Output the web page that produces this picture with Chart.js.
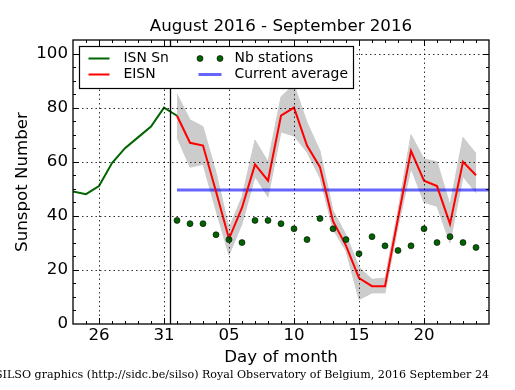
<!DOCTYPE html>
<html><head><meta charset="utf-8">
<script src="https://cdn.jsdelivr.net/npm/chart.js@4.4.1/dist/chart.umd.min.js"></script>
<style>html,body{margin:0;padding:0;background:#fff;}canvas{display:block}</style>
</head><body>
<canvas id="c" width="515" height="390"></canvas>
<script>
const chartTitle = 'August 2016 - September 2016';
const xAxisTitle = 'Day of month';
const yAxisTitle = 'Sunspot Number';
const footerText = 'SILSO graphics (http://sidc.be/silso) Royal Observatory of Belgium, 2016 September 24';
const seriesNames = ['ISN Sn', 'EISN', 'Nb stations', 'Current average'];

// day number counted from 31 August (= 0); negative = August, positive = September
const isnDays   = [-7, -6, -5, -4, -3, -2, -1, 0, 1];
const isnValues = [49, 48, 51, 59.5, 65, 69, 73, 80, 77];

const eisnDays   = [1, 2, 3, 4, 5, 6, 7, 8, 9, 10, 11, 12, 13, 14, 15, 16, 17, 18, 19, 20, 21, 22, 23, 24];
const eisnValues = [77, 67, 66, 49, 31.5, 43, 59, 53, 77, 80, 66, 58, 38, 29, 17, 14, 14, 39, 64, 53, 51, 37, 60, 55];
const bandUpper  = [85, 75.5, 73, 56, 35.5, 47, 68, 60, 84, 88.5, 74.5, 64, 42, 33, 21, 16.5, 17, 42, 70, 61, 60, 44, 69, 63];
const bandLower  = [69, 58, 59, 42, 25.5, 37, 54.5, 47, 71, 69.5, 63.5, 54, 35, 27, 9, 11.5, 11.5, 36, 57.5, 45, 43.5, 30, 54.5, 48.5];
const nbStations = [38.3, 37.1, 37.1, 33, 31.2, 30.1, 38.3, 38.3, 37.1, 35.2, 31.2, 39, 35.2, 31.2, 26, 32.3, 28.9, 27.2, 28.9, 35.2, 30.1, 32.3, 30.1, 28.3];

const avgDays   = [1, 25];
const avgValues = [49.5, 49.5];

const xTickValues = [-5, 0, 5, 10, 15, 20];
const xTickLabels = ['26', '31', '05', '10', '15', '20'];
const yTickValues = [0, 20, 40, 60, 80, 100];
const xMin = -7, xMax = 25, yMin = 0, yMax = 105;
const xMinorStep = 1, yMinorStep = 5;
const monthBoundary = 0.5;

const pts = (xs, ys) => xs.map((d, i) => ({x: d, y: ys[i]}));

const FONT = 'DejaVu Sans';
Chart.defaults.font.family = FONT;
Chart.defaults.color = '#000';

const decor = {
  id: 'decor',
  afterDatasetsDraw(chart) {
    const {ctx, chartArea: a, scales: {x, y}} = chart;
    ctx.save();
    ctx.strokeStyle = '#000';
    ctx.lineWidth = 0.8;
    ctx.setLineDash([1.5, 3]);
    xTickValues.forEach(v => {
      const px = Math.round(x.getPixelForValue(v)) + 0.5;
      ctx.beginPath(); ctx.moveTo(px, a.top); ctx.lineTo(px, a.bottom); ctx.stroke();
    });
    yTickValues.forEach(v => {
      if (v <= yMin) return;
      const py = Math.round(y.getPixelForValue(v)) + 0.5;
      ctx.beginPath(); ctx.moveTo(a.left, py); ctx.lineTo(a.right, py); ctx.stroke();
    });
    ctx.setLineDash([]);
    ctx.lineWidth = 1.3;
    const sx = x.getPixelForValue(monthBoundary);
    ctx.beginPath(); ctx.moveTo(sx, a.top); ctx.lineTo(sx, a.bottom); ctx.stroke();
    ctx.restore();
  },
  afterDraw(chart) {
    const {ctx, chartArea: a, scales: {x, y}} = chart;
    ctx.save();
    ctx.strokeStyle = '#000';
    // tick marks (inward, all four sides)
    ctx.lineWidth = 1;
    for (let d = xMin + xMinorStep; d < xMax; d += xMinorStep) {
      const len = xTickValues.includes(d) ? 6 : 3;
      const px = Math.round(x.getPixelForValue(d)) + 0.5;
      ctx.beginPath();
      ctx.moveTo(px, a.bottom); ctx.lineTo(px, a.bottom - len);
      ctx.moveTo(px, a.top); ctx.lineTo(px, a.top + len);
      ctx.stroke();
    }
    for (let v = yMin + yMinorStep; v < yMax; v += yMinorStep) {
      const len = yTickValues.includes(v) ? 6 : 3;
      const py = Math.round(y.getPixelForValue(v)) + 0.5;
      ctx.beginPath();
      ctx.moveTo(a.left, py); ctx.lineTo(a.left + len, py);
      ctx.moveTo(a.right, py); ctx.lineTo(a.right - len, py);
      ctx.stroke();
    }
    // frame
    ctx.lineWidth = 1.3;
    ctx.strokeRect(a.left, a.top, a.right - a.left, a.bottom - a.top);

    // legend
    const lx = a.left + 6.5, ly = a.top + 6.5, lw = 274, lh = 42;
    ctx.fillStyle = '#fff';
    ctx.fillRect(lx, ly, lw, lh);
    ctx.lineWidth = 1.2;
    ctx.strokeRect(lx, ly, lw, lh);
    const r1 = ly + 12, r2 = ly + 28;
    const c1 = lx + 9, c2 = lx + 119;
    ctx.lineCap = 'butt';
    ctx.lineWidth = 2;
    ctx.strokeStyle = '#006400';
    ctx.beginPath(); ctx.moveTo(c1, r1); ctx.lineTo(c1 + 21, r1); ctx.stroke();
    ctx.strokeStyle = '#ff0000';
    ctx.beginPath(); ctx.moveTo(c1, r2); ctx.lineTo(c1 + 21, r2); ctx.stroke();
    ctx.lineWidth = 3;
    ctx.strokeStyle = 'rgba(0,0,255,0.6)';
    ctx.beginPath(); ctx.moveTo(c2, r2); ctx.lineTo(c2 + 23, r2); ctx.stroke();
    ctx.fillStyle = '#006400'; ctx.strokeStyle = '#000'; ctx.lineWidth = 0.6;
    [c2 + 1.5, c2 + 21.5].forEach(cx => {
      ctx.beginPath(); ctx.arc(cx, r1, 3, 0, Math.PI * 2); ctx.fill(); ctx.stroke();
    });
    ctx.fillStyle = '#000';
    ctx.font = '13.9px "' + FONT + '"';
    ctx.textBaseline = 'middle';
    ctx.textAlign = 'left';
    ctx.fillText(seriesNames[0], lx + 44, r1);
    ctx.fillText(seriesNames[1], lx + 44, r2);
    ctx.fillText(seriesNames[2], lx + 155, r1);
    ctx.fillText(seriesNames[3], lx + 155, r2);

    // footer
    ctx.font = '11.1px "DejaVu Serif"';
    ctx.textAlign = 'right';
    ctx.fillText(footerText, 489, 375);
    ctx.restore();
  }
};

new Chart(document.getElementById('c'), {
  type: 'line',
  data: {
    datasets: [
      {label: seriesNames[2], data: pts(eisnDays, nbStations), showLine: false,
       pointRadius: 3, pointBackgroundColor: '#006400', pointBorderColor: '#000', pointBorderWidth: 0.6},
      {label: seriesNames[1], data: pts(eisnDays, eisnValues), borderColor: '#ff0000', borderWidth: 2, pointRadius: 0},
      {label: seriesNames[0], data: pts(isnDays, isnValues), borderColor: '#006400', borderWidth: 2, pointRadius: 0},
      {label: seriesNames[3], data: pts(avgDays, avgValues), borderColor: 'rgba(0,0,255,0.6)', borderWidth: 3, pointRadius: 0},
      {label: 'upper', data: pts(eisnDays, bandUpper), borderColor: 'rgba(204,204,204,1)', borderWidth: 1,
       backgroundColor: '#cccccc', fill: '+1', pointRadius: 0},
      {label: 'lower', data: pts(eisnDays, bandLower), borderColor: 'rgba(204,204,204,1)', borderWidth: 1,
       pointRadius: 0, fill: false}
    ]
  },
  options: {
    responsive: false,
    animation: false,
    devicePixelRatio: 1,
    events: [],
    layout: {padding: {left: 0, right: 26, top: 0, bottom: 0}},
    plugins: {
      legend: {display: false},
      tooltip: {enabled: false},
      title: {display: true, text: chartTitle, color: '#000', fullSize: false,
              font: {size: 16.67, weight: 'normal', family: FONT}, padding: {top: 17, bottom: 3}}
    },
    scales: {
      x: {
        type: 'linear', min: xMin, max: xMax,
        grid: {display: false, drawTicks: false}, border: {display: false},
        afterBuildTicks: s => { s.ticks = xTickValues.map(v => ({value: v})); },
        afterFit: s => { s.height = 66; },
        ticks: {autoSkip: false, maxRotation: 0, padding: 2, color: '#000', font: {size: 16.67},
                callback: v => xTickLabels[xTickValues.indexOf(v)]},
        title: {display: true, text: xAxisTitle, color: '#000', font: {size: 16.67}, padding: {top: 0, bottom: 22.5}}
      },
      y: {
        type: 'linear', min: yMin, max: yMax,
        grid: {display: false, drawTicks: false}, border: {display: false},
        afterBuildTicks: s => { s.ticks = yTickValues.map(v => ({value: v})); },
        afterFit: s => { s.width = 73; },
        ticks: {padding: 5, color: '#000', font: {size: 16.67}},
        title: {display: true, text: yAxisTitle, color: '#000', font: {size: 16.67}, padding: {top: 13, bottom: 0}}
      }
    }
  },
  plugins: [decor]
});
</script>
</body></html>
